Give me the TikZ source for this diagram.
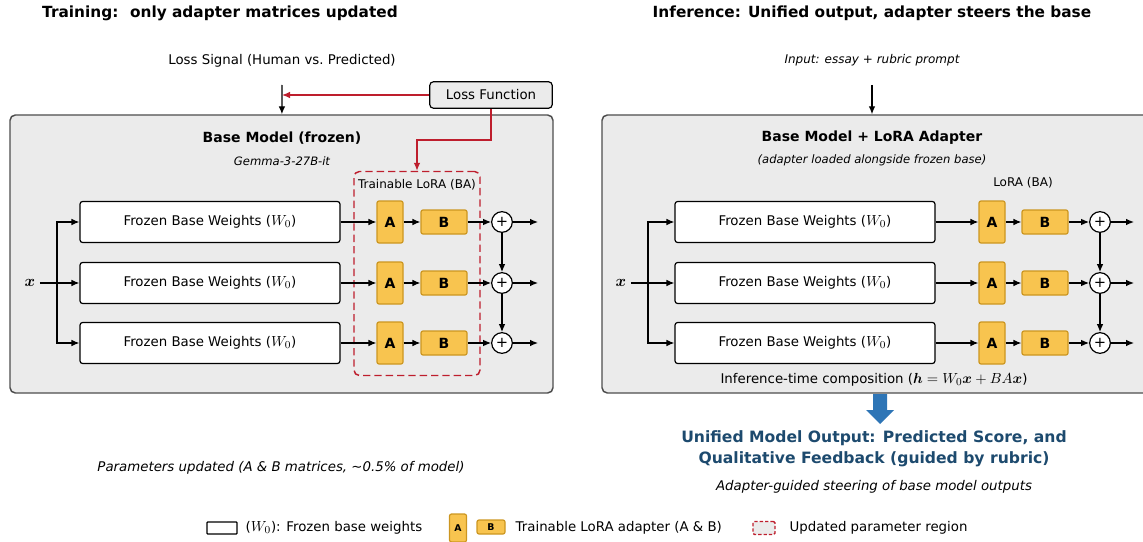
\documentclass[tikz,border=0pt]{standalone}
\usepackage{fontspec}
\usepackage{bm}
\setmainfont{DejaVu Sans}[ItalicFont={DejaVu Sans Oblique},BoldFont={DejaVu Sans Bold},BoldItalicFont={DejaVu Sans Bold Oblique}]
\usetikzlibrary{arrows.meta}

\definecolor{panelgray}{HTML}{EBEBEB}
\definecolor{edgegray}{HTML}{4D4D4D}
\definecolor{loragold}{HTML}{F8C44F}
\definecolor{loraedge}{HTML}{CC9620}
\definecolor{lossred}{HTML}{BE1E2D}
\definecolor{outblue}{HTML}{2E75B6}
\definecolor{textblue}{HTML}{1D4A6E}

\newcommand{\wzero}{$\mbox{\fontsize{11}{12}\selectfont$W_0$}$}

\tikzset{
  arr/.style={-{Latex[length=6pt,width=5pt]}, line width=0.9pt},
  redarr/.style={arr, draw=lossred},
  panel/.style={draw=edgegray, fill=panelgray, rounded corners=4pt, line width=1.1pt},
  frozen/.style={draw=black, fill=white, rounded corners=2pt, line width=0.9pt,
    minimum width=195pt, minimum height=30.75pt},
  amat/.style={draw=loraedge, fill=loragold, rounded corners=1.5pt, line width=0.9pt,
    minimum width=19.5pt, minimum height=31.5pt, inner sep=0pt,
    font=\fontsize{10.5}{12}\selectfont\bfseries},
  bmat/.style={amat, minimum width=34.5pt, minimum height=18pt},
  sumnode/.style={circle, draw=black, fill=white, line width=0.9pt, minimum size=15.5pt, inner sep=0pt,
    font=\fontsize{11}{12}\selectfont},
  region/.style={draw=lossred, dash pattern=on 5.5pt off 3pt, rounded corners=4pt, line width=1.1pt,
    minimum width=94.5pt, minimum height=153pt},
  lossbox/.style={draw=black, fill=panelgray, rounded corners=3pt, line width=0.9pt,
    minimum width=92pt, minimum height=20pt},
  heading/.style={font=\fontsize{11.5}{14}\selectfont\bfseries},
  boxhead/.style={font=\fontsize{10.5}{13}\selectfont\bfseries},
  note/.style={font=\fontsize{8.7}{11}\selectfont\itshape},
  xlabel/.style={font=\fontsize{13}{14}\selectfont},
}

\begin{document}
\begin{tikzpicture}[x=0.75pt,y=-0.75pt]
  \useasboundingbox (0,0) rectangle (1143,542);

  % training side
  \node[heading] (ltitle) at (220,13) {Training:\hspace{0.3em} only adapter matrices updated};
  \node (lsig) at (282,61) {Loss Signal (Human vs.\ Predicted)};
  \node[panel, minimum width=407.25pt, minimum height=208.5pt] (lpanel) at (281.5,254) {};
  \node[boxhead] (lhead) at (282,138) {Base Model (frozen)};
  \node[note] (lsub) at (282,161) {Gemma-3-27B-it};
  \node[lossbox] (lloss) at (491,95) {Loss Function};
  \coordinate (lin) at (282,85);
  \draw[arr] (lin) -- (lpanel);
  \draw[redarr] (lloss) -- (lin |- lloss);
  \node[region] (lreg) at (417,273.5) {};
  \node[font=\fontsize{9}{11}\selectfont] (lreglab) at (417,185) {Trainable LoRA (BA)};
  \draw[redarr] (lloss) -- ++(0,45) -| (lreg);

  \node[xlabel] (lx) at (30,283) {$\bm{x}$};
  \coordinate (lsplit) at (57,283);
  \draw[line width=0.9pt] (lx) -- (lsplit);
  \foreach \r/\y in {1/222,2/283,3/343}{
    \node[frozen] (lw\r) at (210,\y) {Frozen Base Weights (\wzero)};
    \node[amat] (la\r) at (390,\y) {A};
    \node[bmat] (lb\r) at (444,\y) {B};
    \node[sumnode] (ls\r) at (502,\y) {+};
    \coordinate (lo\r) at (538,\y);
    \draw[arr] (lsplit) |- (lw\r);
    \draw[arr] (lw\r) -- (la\r);
    \draw[arr] (la\r) -- (lb\r);
    \draw[arr] (lb\r) -- (ls\r);
    \draw[arr] (ls\r) -- (lo\r);
  }
  \draw[arr] (ls1) -- (ls2);
  \draw[arr] (ls2) -- (ls3);
  \node[font=\fontsize{10}{12}\selectfont\itshape] (lnote) at (281,468)
    {Parameters updated (A \& B matrices, \textasciitilde0.5\% of model)};

  % inference side
  \node[heading] (rtitle) at (872,13) {Inference: Unified output, adapter steers the base};
  \node[font=\fontsize{9}{11}\selectfont\itshape] (rinput) at (872,60) {Input: essay + rubric prompt};
  \node[panel, minimum width=414.75pt, minimum height=208.5pt] (rpanel) at (878.5,254) {};
  \coordinate (rin) at (872,85);
  \draw[arr] (rin) -- (rin |- rpanel.north);
  \node[boxhead] (rhead) at (872,138) {Base Model + LoRA Adapter};
  \node[note] (rsub) at (872,160) {(adapter loaded alongside frozen base)};
  \node[font=\fontsize{9}{11}\selectfont] (rlab) at (1023,183) {LoRA (BA)};

  \node[xlabel] (rx) at (621,283) {$\bm{x}$};
  \coordinate (rsplit) at (648,283);
  \draw[line width=0.9pt] (rx) -- (rsplit);
  \foreach \r/\y in {1/222,2/283,3/343}{
    \node[frozen] (rw\r) at (805,\y) {Frozen Base Weights (\wzero)};
    \node[amat] (ra\r) at (992,\y) {A};
    \node[bmat] (rb\r) at (1045,\y) {B};
    \node[sumnode] (rs\r) at (1100,\y) {+};
    \coordinate (ro\r) at (1134,\y);
    \draw[arr] (rsplit) |- (rw\r);
    \draw[arr] (rw\r) -- (ra\r);
    \draw[arr] (ra\r) -- (rb\r);
    \draw[arr] (rb\r) -- (rs\r);
    \draw[arr] (rs\r) -- (ro\r);
  }
  \draw[arr] (rs1) -- (rs2);
  \draw[arr] (rs2) -- (rs3);
  \node (rcomp) at (874,380) {Inference-time composition ({\fontsize{11}{12}\selectfont$\bm{h} = W_0\bm{x} + BA\bm{x}$})};

  \coordinate (rfoot) at (880,394);
  \fill[outblue] (rfoot) ++(-7,0) -- ++(14,0) -- ++(0,16) -- ++(7,0) -- ++(-14,14)
    -- ++(-14,-14) -- ++(7,0) -- cycle;
  \node[align=center, text=textblue, font=\fontsize{11.7}{15.75}\selectfont\bfseries] (rout) at (874,449)
    {Unified Model Output: Predicted Score, and\\Qualitative Feedback (guided by rubric)};
  \node[font=\fontsize{10}{12}\selectfont\itshape] (rnote) at (874,487)
    {Adapter-guided steering of base model outputs};

  % legend
  \node[frozen, minimum width=22.5pt, minimum height=9pt, rounded corners=0.5pt] (kw) at (222,528) {};
  \node[anchor=west] (kwt) at (241,528) {(\wzero): Frozen base weights};
  \node[amat, minimum width=12.75pt, minimum height=21pt, font=\fontsize{7}{8}\selectfont\bfseries] (ka) at (458,528) {A};
  \node[bmat, minimum width=21pt, minimum height=10.5pt, font=\fontsize{7}{8}\selectfont\bfseries] (kb) at (491,527) {B};
  \node[anchor=west] (kabt) at (511,528) {Trainable LoRA adapter (A \& B)};
  \node[region, fill=panelgray, minimum width=16.5pt, minimum height=9.75pt, rounded corners=1pt,
    dash pattern=on 2.5pt off 1.5pt] (kr) at (764,528) {};
  \node[anchor=west] (krt) at (785,528) {Updated parameter region};
\end{tikzpicture}
\end{document}
